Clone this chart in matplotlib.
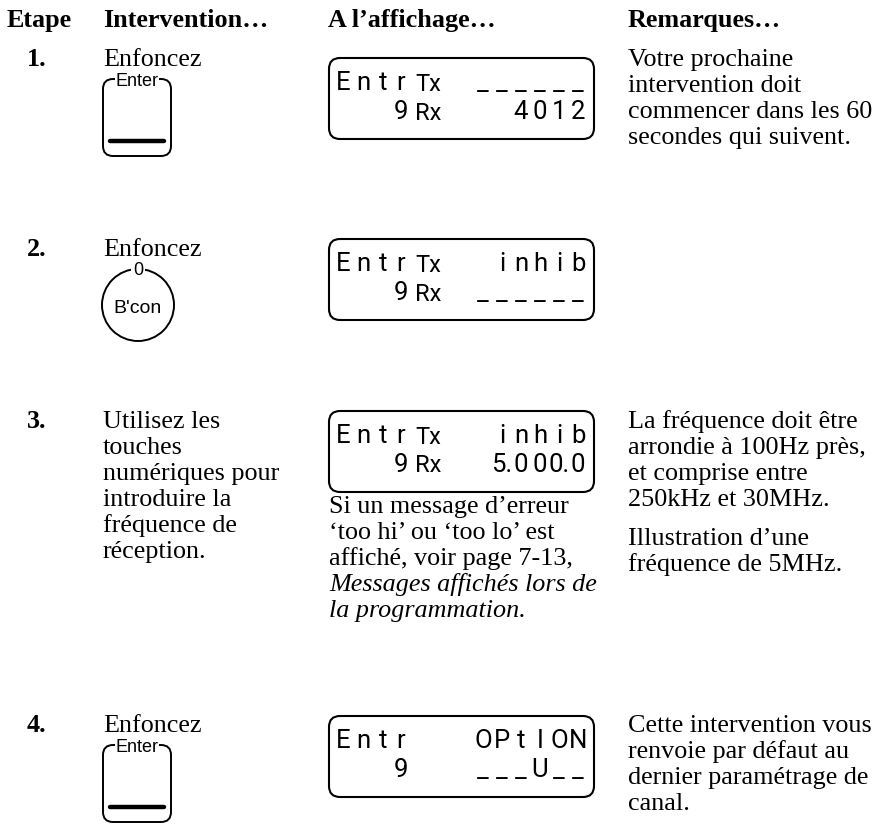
import matplotlib
matplotlib.use("Agg")
import matplotlib.pyplot as plt
from matplotlib.patches import FancyBboxPatch, Circle

# ---------------- content ----------------
headers = ["Etape", "Intervention…", "A l’affichage…", "Remarques…"]
step_numbers = ["1.", "2.", "3.", "4."]
interventions = [
    ["Enfoncez"],
    ["Enfoncez"],
    ["Utilisez les", "touches", "numériques pour", "introduire la", "fréquence de", "réception."],
    ["Enfoncez"],
]
key_types = ["enter", "bcon", None, "enter"]
enter_label = "Enter"
bcon_top = "0"
bcon_label = "B'con"

lcd_left1 = ["Entr", "Entr", "Entr", "Entr"]
lcd_mid1 = ["Tx", "Tx", "Tx", ""]
lcd_right1 = ["______", "inhib", "inhib", "OPtION"]
lcd_left2 = ["9", "9", "9", "9"]
lcd_mid2 = ["Rx", "Rx", "Rx", ""]
lcd_right2 = ["4012", "______", "5.000.0", "___U__"]

display_notes = [
    [],
    [],
    [("Si un message d’erreur", "normal"), ("‘too hi’ ou ‘too lo’ est", "normal"),
     ("affiché, voir page 7-13,", "normal"), ("Messages affichés lors de", "italic"),
     ("la programmation.", "italic")],
    [],
]
remarks = [
    [["Votre prochaine", "intervention doit", "commencer dans les 60", "secondes qui suivent."]],
    [],
    [["La fréquence doit être", "arrondie à 100Hz près,", "et comprise entre", "250kHz et 30MHz."],
     ["Illustration d’une", "fréquence de 5MHz."]],
    [["Cette intervention vous", "renvoie par défaut au", "dernier paramétrage de", "canal."]],
]

# ---------------- layout ----------------
W, H = 887, 829
fig = plt.figure(figsize=(W / 100, H / 100), dpi=100)
ax = fig.add_axes([0, 0, 1, 1])
ax.set_xlim(0, W)
ax.set_ylim(H, 0)
ax.axis("off")

SERIF = ["Liberation Serif", "DejaVu Serif"]
SANS = ["Liberation Sans", "DejaVu Sans"]
LCDF = ["Roboto", "DejaVu Sans"]
FS = 18.8
LS = 26

header_x = [7, 103, 328, 628]
header_y = 27
step_y = [66, 256, 428, 732]
box_offset = [-7, -16, -16, -15]
num_x, int_x, box_x0, box_x1, rem_x = 27, 103, 329, 594, 628
box_h = 81

for hx, ht in zip(header_x, headers):
    ax.text(hx, header_y, ht, family=SERIF, fontsize=FS, weight="bold", va="baseline", ha="left")


def lcd_char_row(chars, centers, y):
    for c, cx in zip(chars, centers):
        ax.text(cx, y, c, family=LCDF, fontsize=18.5, weight="normal",
                va="center", ha="center", color="black")


left_cols = [343, 363, 383, 401]
right_cols = [483, 502, 521, 540, 559, 578]


def split_cells(s):
    cells = []
    for ch in s:
        if ch == "." and cells:
            cells[-1] += "."
        else:
            cells.append(ch)
    return cells


def draw_lcd(i, top):
    box = FancyBboxPatch((box_x0, top), box_x1 - box_x0, box_h,
                         boxstyle="round,pad=0,rounding_size=11",
                         fc="none", ec="black", lw=1.5)
    ax.add_patch(box)
    r1, r2 = top + 24, top + 53
    for row_y, left, mid, right in ((r1, lcd_left1[i], lcd_mid1[i], lcd_right1[i]),
                                    (r2, lcd_left2[i], lcd_mid2[i], lcd_right2[i])):
        lc = left_cols[-len(left):]
        lcd_char_row(list(left), lc, row_y)
        if mid:
            ax.text(415, row_y + 1, mid, family=LCDF, fontsize=17,
                    va="center", ha="left")
        cells = split_cells(right)
        rc = right_cols[-len(cells):]
        lcd_char_row(cells, rc, row_y)


def draw_enter(x, top):
    ax.add_patch(FancyBboxPatch((x, top), 68, 77, boxstyle="round,pad=0,rounding_size=10",
                                fc="none", ec="black", lw=1.4))
    ax.text(x + 34, top + 1, enter_label, family=SANS, fontsize=13, ha="center", va="center",
            bbox=dict(fc="white", ec="none", pad=0.6))
    ax.plot([x + 7, x + 61], [top + 62, top + 62], color="black", lw=3.2, solid_capstyle="round")


def draw_bcon(cx, cy):
    ax.add_patch(Circle((cx, cy), 36, fc="none", ec="black", lw=1.4))
    ax.text(cx, cy - 36, bcon_top, family=SANS, fontsize=13, ha="center", va="center",
            bbox=dict(fc="white", ec="none", pad=1.2))
    ax.text(cx, cy + 2, bcon_label, family=SANS, fontsize=14, ha="center", va="center")


for i in range(4):
    y0 = step_y[i]
    ax.text(num_x, y0, step_numbers[i], family=SERIF, fontsize=FS, weight="bold", va="baseline")
    for k, line in enumerate(interventions[i]):
        ax.text(int_x, y0 + k * LS, line, family=SERIF, fontsize=FS, va="baseline")
    if key_types[i] == "enter":
        draw_enter(103, y0 + 14)
    elif key_types[i] == "bcon":
        draw_bcon(138, y0 + 50)
    top = y0 + box_offset[i]
    draw_lcd(i, top)
    ny = top + box_h + 20
    for k, (line, style) in enumerate(display_notes[i]):
        ax.text(box_x0, ny + k * LS, line, family=SERIF, fontsize=FS, style=style, va="baseline")
    ry = y0
    for p, para in enumerate(remarks[i]):
        if p > 0:
            ry += LS * 0.5
        for line in para:
            ax.text(rem_x, ry, line, family=SERIF, fontsize=FS, va="baseline")
            ry += LS

fig.savefig("out.png", dpi=100, facecolor="white")
